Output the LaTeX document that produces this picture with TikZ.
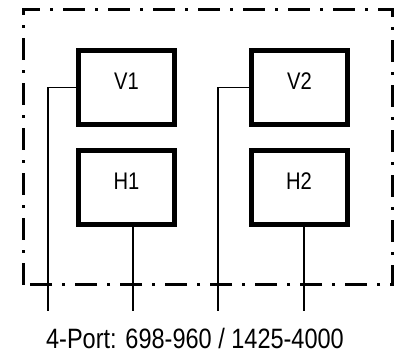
\documentclass[tikz,border=0pt]{standalone}
\usepackage{fontspec}
\setmainfont[FakeStretch=0.84]{Liberation Sans}
\usetikzlibrary{positioning}
\tikzset{
    frame/.style={line width=3pt, dash pattern=on 22pt off 10pt on 3pt off 10pt},
    antbox/.style={draw, line width=5pt, minimum width=96pt, minimum height=74pt,
        font=\fontsize{24}{24}\selectfont, text height=17pt, text depth=14pt, inner sep=0pt},
    wire/.style={line width=1.6pt},
    note/.style={font=\fontsize{28}{28}\selectfont}
}

\begin{document}
\begin{tikzpicture}[x=1pt, y=-1pt]
    \useasboundingbox (0,0) rectangle (405,356);
    \draw[frame] (23,284.5) -- (23,9.5) -- (392.5,9.5) -- (392.5,284.5) -- cycle;
    \node[antbox] (v1) at (126.5,87.5) {V1};
    \node[antbox] (h1) at (126.5,187.5) {H1};
    \node[antbox] (v2) at (299.5,87.5) {V2};
    \node[antbox] (h2) at (299,187.5) {H2};
    \coordinate (p1) at (48,311);
    \coordinate (p2) at (133,311);
    \coordinate (p3) at (218,311);
    \coordinate (p4) at (304,311);
    \draw[wire] (v1.west) -| (p1);
    \draw[wire] (p2 |- h1.south) -- (p2);
    \draw[wire] (v2.west) -| (p3);
    \draw[wire] (p4 |- h2.south) -- (p4);
    \node[note, anchor=base] (ports) at (195,348) {4-Port: 698-960 / 1425-4000};
\end{tikzpicture}
\end{document}
